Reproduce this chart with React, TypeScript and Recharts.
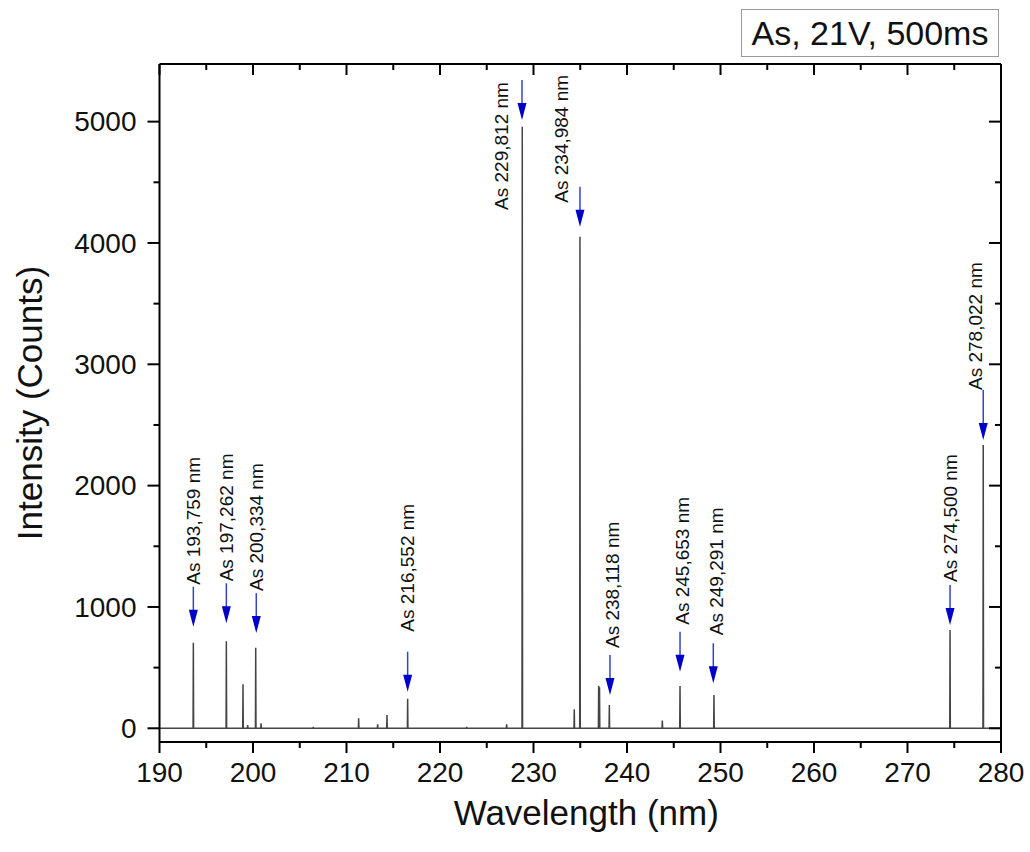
import { ComposedChart, Line, Scatter, XAxis, YAxis, Label } from 'recharts';

// emission lines (nm, counts)
const peakNm = [
  193.62, 197.15, 198.93, 199.43, 200.29, 200.86, 206.45, 211.3, 213.33, 214.33, 216.54,
  222.85, 227.13, 228.8, 234.36, 234.97, 236.97, 237.06, 238.11, 243.78, 245.67, 249.3,
  274.55, 278.1,
];
const peakCounts = [
  705, 717, 363, 27, 664, 41, 12, 82, 33, 110, 244,
  12, 33, 4958, 156, 4052, 351, 338, 192, 63, 349, 274,
  810, 2335,
];

// arrow annotations: where each arrow tip sits and its text
const lineNm = [193.62, 197.15, 200.35, 216.54, 228.77, 234.97, 238.18, 245.67, 249.23, 274.55, 278.1];
const lineTip = [837, 865, 785, 302, 5014, 4134, 274, 466, 371, 851, 2376];
const lineLabels = [
  'As 193,759 nm', 'As 197,262 nm', 'As 200,334 nm', 'As 216,552 nm', 'As 229,812 nm',
  'As 234,984 nm', 'As 238,118 nm', 'As 245,653 nm', 'As 249,291 nm', 'As 274,500 nm',
  'As 278,022 nm',
];

const xMajorTicks = [190, 200, 210, 220, 230, 240, 250, 260, 270, 280];
const xMinorTicks = [195, 205, 215, 225, 235, 245, 255, 265, 275];
const yMajorTicks = [0, 1000, 2000, 3000, 4000, 5000];
const yMinorTicks = [500, 1500, 2500, 3500, 4500];

const xDomain = [190, 280];
const yDomain = [-113, 5475];

// label placement per annotation: [dx, dy from arrow top, arrow length] in px
const labelLayout = [
  [0, -2, 40], [0, -2, 40], [0, -2, 40], [0, -20, 40], [-20, 130, 40], [-18, 16, 40],
  [3, -7, 40], [2, -7, 40], [3, -8, 40], [0, -3, 40], [-8, 0, 50],
];

const FONT = '"Liberation Sans", Arial, sans-serif';

const spectrum: { nm: number; counts: number }[] = [{ nm: 190, counts: 0 }];
peakNm.forEach((nm, i) => {
  spectrum.push({ nm: nm - 0.03, counts: 0 }, { nm, counts: peakCounts[i] }, { nm: nm + 0.03, counts: 0 });
});
spectrum.push({ nm: 280, counts: 0 });

const annotations = lineNm.map((nm, i) => ({ nm, tip: lineTip[i], label: lineLabels[i], idx: i }));

const xTicks = [...xMajorTicks, ...xMinorTicks].sort((a, b) => a - b);
const yTicks = [...yMajorTicks, ...yMinorTicks].sort((a, b) => a - b);

// x ticks always point down (outside at bottom, inside at top)
function XTick(props: any) {
  const { x, y, payload, showLabel } = props;
  const major = xMajorTicks.includes(payload.value);
  return (
    <g>
      <line x1={x} y1={y} x2={x} y2={y + (major ? 11 : 6)} stroke="#000" strokeWidth={2} />
      {showLabel && major && (
        <text x={x} y={y + 40} textAnchor="middle" fontSize={28} fontFamily={FONT} fill="#111">
          {payload.value}
        </text>
      )}
    </g>
  );
}

// y ticks always point left (outside at left, inside at right)
function YTick(props: any) {
  const { x, y, payload, showLabel } = props;
  const major = yMajorTicks.includes(payload.value);
  return (
    <g>
      <line x1={x} y1={y} x2={x - (major ? 12 : 6)} y2={y} stroke="#000" strokeWidth={2} />
      {showLabel && major && (
        <text x={x - 23} y={y} dy="0.35em" textAnchor="end" fontSize={28} fontFamily={FONT} fill="#111">
          {payload.value}
        </text>
      )}
    </g>
  );
}

function Annotation(props: any) {
  const { cx, cy, payload } = props;
  const [dx, dy, len] = labelLayout[payload.idx];
  const top = cy - len;
  return (
    <g>
      <line x1={cx} y1={top} x2={cx} y2={cy - 16} stroke="#3344cc" strokeWidth={1.5} />
      <polygon points={`${cx - 4.5},${cy - 17} ${cx + 4.5},${cy - 17} ${cx},${cy}`} fill="#0000c8" />
      <text
        transform={`translate(${cx + dx},${top + dy}) rotate(-90)`}
        dominantBaseline="central"
        fontSize={19}
        fontFamily={FONT}
        fill="#111"
      >
        {payload.label}
      </text>
    </g>
  );
}

export default function App() {
  return (
    <div style={{ position: 'absolute', left: 0, top: 0, width: 1030, height: 852, background: '#fff', fontFamily: FONT }}>
      <div
        style={{
          position: 'absolute',
          left: 741,
          top: 9,
          width: 256,
          height: 46,
          border: '1px solid #999',
          background: '#fff',
          fontSize: 34,
          lineHeight: '46px',
          textAlign: 'center',
          color: '#111',
          zIndex: 2,
        }}
      >
        As, 21V, 500ms
      </div>
      <ComposedChart width={1030} height={852} margin={{ top: 63, right: 28, bottom: 0, left: 59.5 }}>
        <XAxis
          dataKey="nm"
          type="number"
          domain={xDomain}
          ticks={xTicks}
          interval={0}
          allowDataOverflow
          height={110}
          axisLine={{ stroke: '#000', strokeWidth: 2 }}
          tickLine={false}
          tickSize={0}
          tickMargin={0}
          tick={(p: any) => <XTick {...p} showLabel />}
        >
          <Label
            content={(p: any) => {
              const vb = p.viewBox;
              return (
                <text x={vb.x + vb.width / 2 + 6} y={vb.y + 83} textAnchor="middle" fontSize={35} fontFamily={FONT} fill="#111">
                  Wavelength (nm)
                </text>
              );
            }}
          />
        </XAxis>
        <XAxis
          xAxisId="top"
          dataKey="nm"
          orientation="top"
          type="number"
          domain={xDomain}
          ticks={xTicks}
          interval={0}
          allowDataOverflow
          height={1}
          axisLine={{ stroke: '#000', strokeWidth: 2 }}
          tickLine={false}
          tickSize={0}
          tickMargin={0}
          tick={(p: any) => <XTick {...p} />}
        />
        <YAxis
          type="number"
          domain={yDomain}
          ticks={yTicks}
          interval={0}
          allowDataOverflow
          width={100}
          axisLine={{ stroke: '#000', strokeWidth: 2 }}
          tickLine={false}
          tickSize={0}
          tickMargin={0}
          tick={(p: any) => <YTick {...p} showLabel />}
        >
          <Label
            content={(p: any) => {
              const vb = p.viewBox;
              const cx = 29;
              const cy = vb.y + vb.height / 2;
              return (
                <text
                  transform={`translate(${cx},${cy}) rotate(-90)`}
                  textAnchor="middle"
                  dominantBaseline="central"
                  fontSize={35}
                  fontFamily={FONT}
                  fill="#111"
                >
                  Intensity (Counts)
                </text>
              );
            }}
          />
        </YAxis>
        <YAxis
          yAxisId="right"
          orientation="right"
          type="number"
          domain={yDomain}
          ticks={yTicks}
          interval={0}
          allowDataOverflow
          width={1}
          axisLine={{ stroke: '#000', strokeWidth: 2 }}
          tickLine={false}
          tickSize={0}
          tickMargin={0}
          tick={(p: any) => <YTick {...p} />}
        />
        {/* invisible copy so the mirrored top/right axes get drawn */}
        <Line
          data={spectrum}
          xAxisId="top"
          yAxisId="right"
          dataKey="counts"
          type="linear"
          stroke="none"
          dot={false}
          legendType="none"
          isAnimationActive={false}
        />
        <Line
          data={spectrum}
          dataKey="counts"
          type="linear"
          stroke="#444"
          strokeWidth={1.5}
          dot={false}
          isAnimationActive={false}
        />
        <Scatter data={annotations} dataKey="tip" shape={(p: any) => <Annotation {...p} />} isAnimationActive={false} />
      </ComposedChart>
    </div>
  );
}
